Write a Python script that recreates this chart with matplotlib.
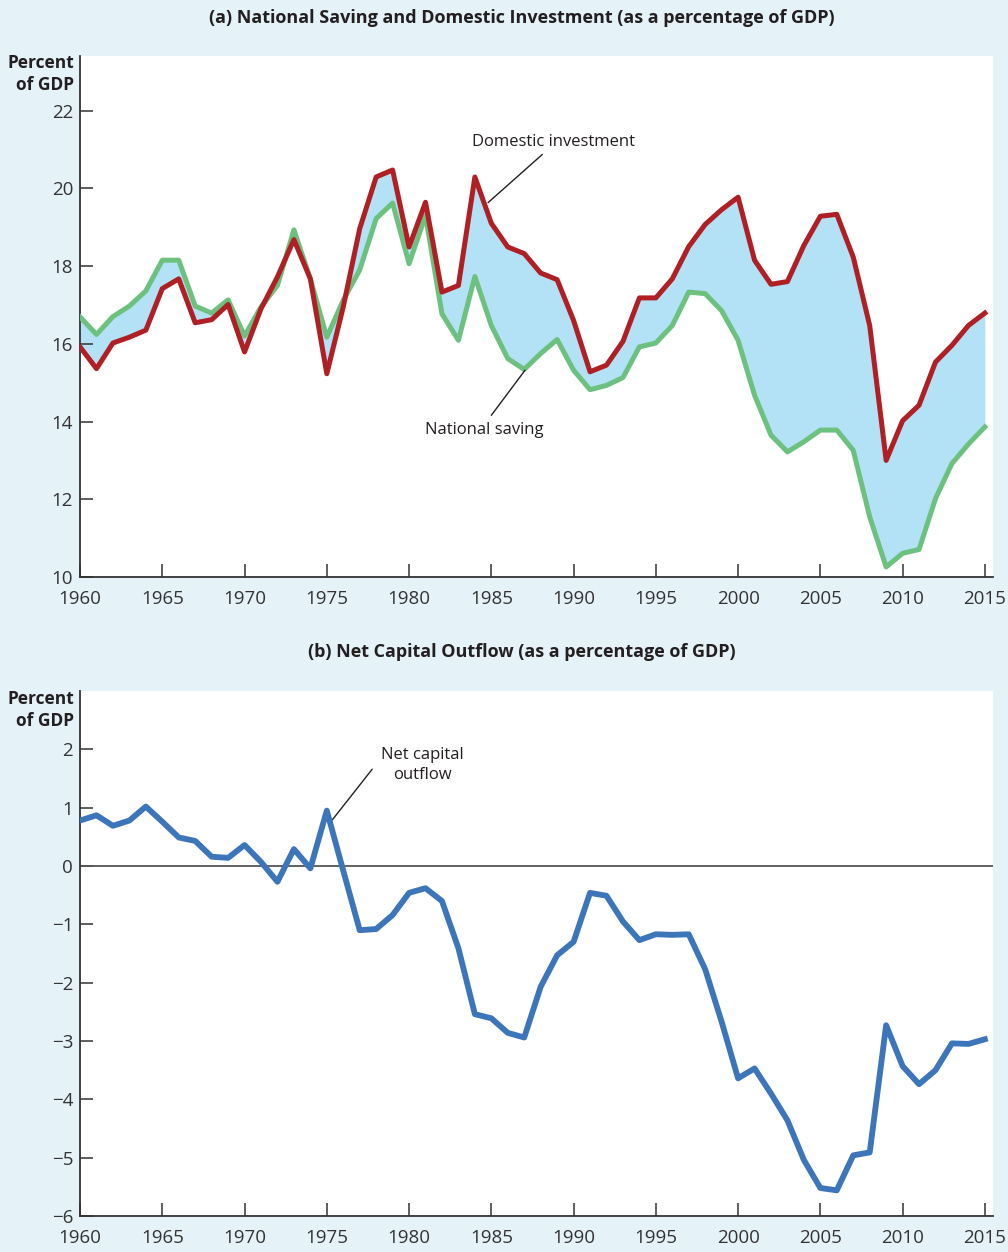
import matplotlib
matplotlib.use('Agg')
import matplotlib.pyplot as plt

# ── Datos ────────────────────────────────────────────────────────────────────
years = list(range(1960, 2016))

national_saving = [16.69, 16.24, 16.70, 16.97, 17.36, 18.15, 18.15, 16.97, 16.79, 17.13,
                   16.20, 16.95, 17.50, 18.93, 17.67, 16.17, 17.12, 17.90, 19.22, 19.62,
                   18.06, 19.30, 16.77, 16.09, 17.73, 16.47, 15.62, 15.34, 15.75, 16.11,
                   15.32, 14.82, 14.93, 15.13, 15.92, 16.02, 16.47, 17.33, 17.29, 16.85,
                   16.09, 14.68, 13.65, 13.22, 13.48, 13.78, 13.78, 13.26, 11.55, 10.26,
                   10.61, 10.71, 12.02, 12.92, 13.42, 13.86]

domestic_investment = [15.92, 15.36, 16.02, 16.17, 16.35, 17.42, 17.67, 16.54, 16.62, 17.01,
                       15.79, 16.90, 17.72, 18.68, 17.67, 15.23, 16.95, 18.96, 20.29, 20.47,
                       18.49, 19.64, 17.33, 17.50, 20.29, 19.10, 18.49, 18.32, 17.82, 17.65,
                       16.60, 15.28, 15.45, 16.06, 17.18, 17.18, 17.67, 18.50, 19.07, 19.45,
                       19.77, 18.15, 17.53, 17.60, 18.53, 19.28, 19.33, 18.23, 16.47, 13.00,
                       14.02, 14.42, 15.53, 15.96, 16.47, 16.79]

net_capital_outflow = [0.78, 0.87, 0.69, 0.78, 1.02, 0.76, 0.49, 0.43, 0.16, 0.14,
                       0.36, 0.07, -0.27, 0.29, -0.04, 0.95, -0.08, -1.10, -1.08, -0.84,
                       -0.46, -0.38, -0.60, -1.41, -2.54, -2.61, -2.86, -2.94, -2.07, -1.53,
                       -1.30, -0.46, -0.51, -0.95, -1.27, -1.17, -1.18, -1.17, -1.77, -2.67,
                       -3.64, -3.47, -3.90, -4.36, -5.04, -5.52, -5.56, -4.96, -4.91, -2.73,
                       -3.43, -3.74, -3.50, -3.04, -3.05, -2.97]

xticks = [1960, 1965, 1970, 1975, 1980, 1985, 1990, 1995, 2000, 2005, 2010, 2015]
yticks_a = [10, 12, 14, 16, 18, 20, 22]
yticks_b = [-6, -5, -4, -3, -2, -1, 0, 1, 2]

# ── Estilo ───────────────────────────────────────────────────────────────────
BG = '#e5f3f8'
C_INV = '#b01f24'
C_SAV = '#6cc17f'
C_FILL = '#b3e2f7'
C_NCO = '#3d75bb'
C_TXT = '#231f20'

plt.rcParams.update({
    'font.family': ['Open Sans', 'DejaVu Sans'],
    'font.size': 13.5,
    'text.color': C_TXT,
    'axes.edgecolor': '#333333',
    'axes.linewidth': 1.3,
    'xtick.color': '#333333',
    'ytick.color': '#333333',
    'xtick.labelcolor': '#333333',
    'ytick.labelcolor': '#333333',
})

fig = plt.figure(figsize=(10.08, 12.52), dpi=100, facecolor=BG)
ax_a = fig.add_axes([0.0794, 0.5391, 0.9058, 0.4161])
ax_b = fig.add_axes([0.0794, 0.02875, 0.9058, 0.4193])


def estilo(ax, ylim, yticks):
    ax.set_facecolor('white')
    for s in ('top', 'right'):
        ax.spines[s].set_visible(False)
    ax.set_xlim(1960, 2015.5)
    ax.set_ylim(*ylim)
    ax.set_xticks(xticks)
    ax.set_yticks(yticks)
    ax.tick_params(direction='in', length=9.5, width=1.1, labelsize=13.5)
    ax.tick_params(axis='x', pad=9)
    ax.tick_params(axis='y', pad=5)


def guia(ax, p0, p1):
    # línea guía de una etiqueta
    ax.annotate('', xy=p1, xytext=p0,
                arrowprops=dict(arrowstyle='-', color=C_TXT, lw=1, shrinkA=0, shrinkB=0))


# ── Panel (a) ────────────────────────────────────────────────────────────────
estilo(ax_a, (10, 23.4), yticks_a)
ax_a.fill_between(years, national_saving, domestic_investment, color=C_FILL, lw=0, zorder=1)
ax_a.plot(years, national_saving, color=C_SAV, lw=3.6, solid_joinstyle='round', zorder=3)
ax_a.plot(years, domestic_investment, color=C_INV, lw=3.6, solid_joinstyle='round', zorder=4)

ax_a.text(1988.8, 21.18, 'Domestic investment', ha='center', va='center', fontsize=12)
guia(ax_a, (1988.1, 20.87), (1984.8, 19.63))
ax_a.text(1984.6, 13.78, 'National saving', ha='center', va='center', fontsize=12)
guia(ax_a, (1985.0, 14.16), (1987.05, 15.32))

# ── Panel (b) ────────────────────────────────────────────────────────────────
estilo(ax_b, (-6, 3), yticks_b)
ax_b.axhline(0, color='#555555', lw=1.3, zorder=2)
ax_b.plot(years, net_capital_outflow, color=C_NCO, lw=4.2, solid_joinstyle='round', zorder=4)

ax_b.text(1980.8, 1.73, 'Net capital\noutflow', ha='center', va='center',
          fontsize=12, linespacing=1.3)
guia(ax_b, (1977.76, 1.66), (1975.33, 0.79))

# ── Títulos y etiquetas ──────────────────────────────────────────────────────
fig.text(0.518, 0.9856, '(a) National Saving and Domestic Investment (as a percentage of GDP)',
         ha='center', va='center', fontsize=13, fontweight='bold')
fig.text(0.518, 0.4792, '(b) Net Capital Outflow (as a percentage of GDP)',
         ha='center', va='center', fontsize=13, fontweight='bold')

fig.text(0.0734, 0.9409, 'Percent\nof GDP', ha='right', va='center',
         fontsize=12.5, fontweight='bold', linespacing=1.35)
fig.text(0.0734, 0.4329, 'Percent\nof GDP', ha='right', va='center',
         fontsize=12.5, fontweight='bold', linespacing=1.35)

fig.savefig('out.png', dpi=100, facecolor=BG)
